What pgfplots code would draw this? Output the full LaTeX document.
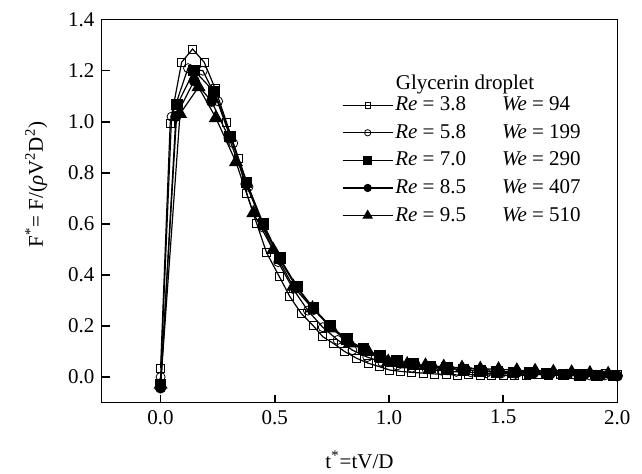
\documentclass[border=0pt]{standalone}
\usepackage{fontspec}
\setmainfont{Liberation Serif}
\usepackage{pgfplots}
\pgfplotsset{compat=1.18}
\begin{document}
\fontsize{10.5}{12.6}\selectfont
\begin{tikzpicture}
\begin{axis}[
  width=257.8pt, height=191.5pt, scale only axis,
  xmin=-0.258, xmax=2.0, ymin=-0.1008, ymax=1.4,
  xtick={0,0.5,1,1.5,2}, ytick={0,0.2,0.4,0.6,0.8,1.0,1.2,1.4},
  xtick pos=bottom, ytick pos=left, tick align=inside,
  major tick length=4pt, minor tick num=0,
  axis line style={line width=0.75pt},
  tick style={line width=0.75pt,black},
  /pgf/number format/assume math mode=true,
  /pgf/number format/.cd, fixed, fixed zerofill, precision=1, /pgfplots/.cd,
  xlabel={t\textsuperscript{*}=tV/D},
  ylabel={F\textsuperscript{*}= F/(\textit{ρ}V\textsuperscript{2}D\textsuperscript{2})},
  xlabel style={at={(axis description cs:0.5,-0.15)},anchor=center},
  ylabel style={at={(axis description cs:-0.127,0.57)},anchor=center},
  legend image code/.code={\draw[mark repeat=2,mark phase=2,#1,every mark/.append style={scale=0.7}] plot coordinates {(0pt,0pt) (12.5pt,0pt) (25pt,0pt)};},
  legend style={draw=none, fill=none, at={(axis description cs:0.4655,0.8105)}, anchor=north west,
    inner sep=0pt, row sep=1.3pt, nodes={inner sep=1pt, text height=8pt, text depth=2.5pt}},
  legend cell align=left,
  every axis plot/.append style={black, line width=0.6pt},
]
% Re = 3.8, We = 94
\addplot[mark=square, mark size=2pt, mark options={line width=0.4pt, solid}] coordinates {
(0,0.035)(0.042,0.995)(0.092,1.233)(0.14,1.285)(0.191,1.233)(0.238,1.132)(0.289,0.997)
(0.34,0.858)(0.377,0.72)(0.42,0.603)(0.464,0.487)(0.52,0.393)(0.566,0.315)(0.615,0.25)
(0.668,0.201)(0.71,0.158)(0.756,0.132)(0.807,0.099)(0.859,0.073)(0.909,0.054)(0.96,0.04)
(1.004,0.027)(1.05,0.022)(1.1,0.018)(1.15,0.015)(1.2,0.012)(1.25,0.01)(1.3,0.008)
(1.35,0.01)(1.4,0.006)(1.45,0.008)(1.5,0.005)(1.55,0.008)(1.6,0.006)(1.65,0.01)
(1.7,0.008)(1.75,0.012)(1.8,0.01)(1.85,0.014)(1.9,0.01)(1.95,0.015)(2.0,0.012)};
\addlegendentry{\makebox[53.35pt][l]{\textit{Re} = 3.8}\textit{We} = 94}
% Re = 5.8, We = 199
\addplot[mark=o, mark size=2.25pt, mark options={line width=0.4pt, solid}] coordinates {
(0,0.0)(0.048,1.02)(0.12,1.21)(0.185,1.2)(0.252,1.08)(0.318,0.916)(0.385,0.745)
(0.45,0.585)(0.515,0.45)(0.58,0.345)(0.645,0.26)(0.71,0.195)(0.775,0.145)(0.84,0.105)
(0.905,0.078)(0.97,0.058)(1.035,0.045)(1.1,0.036)(1.165,0.03)(1.23,0.025)(1.295,0.02)
(1.36,0.018)(1.425,0.015)(1.49,0.013)(1.555,0.012)(1.62,0.01)(1.685,0.01)(1.75,0.008)
(1.815,0.008)(1.88,0.006)(1.945,0.006)(2.0,0.005)};
\addlegendentry{\makebox[53.35pt][l]{\textit{Re} = 5.8}\textit{We} = 199}
% Re = 7.0, We = 290
\addplot[mark=square*, mark size=2.6pt] coordinates {
(0,-0.03)(0.073,1.067)(0.147,1.201)(0.233,1.119)(0.304,0.942)(0.377,0.762)(0.45,0.6)
(0.523,0.465)(0.596,0.355)(0.669,0.27)(0.742,0.2)(0.815,0.148)(0.888,0.11)(0.961,0.082)
(1.034,0.062)(1.107,0.05)(1.18,0.04)(1.253,0.034)(1.326,0.028)(1.399,0.024)(1.472,0.02)
(1.545,0.018)(1.618,0.015)(1.691,0.013)(1.764,0.01)(1.837,0.008)(1.91,0.006)(1.983,0.005)};
\addlegendentry{\makebox[53.35pt][l]{\textit{Re} = 7.0}\textit{We} = 290}
% Re = 8.5, We = 407
\addplot[mark=*, mark size=2.5pt] coordinates {
(0,-0.043)(0.067,1.021)(0.147,1.161)(0.223,1.08)(0.30,0.936)(0.374,0.756)(0.448,0.595)
(0.522,0.46)(0.596,0.35)(0.67,0.265)(0.744,0.198)(0.818,0.146)(0.892,0.108)(0.966,0.08)
(1.04,0.06)(1.114,0.048)(1.188,0.04)(1.262,0.033)(1.336,0.028)(1.41,0.024)(1.484,0.02)
(1.558,0.017)(1.632,0.015)(1.706,0.012)(1.78,0.01)(1.854,0.008)(1.928,0.006)(2.0,0.004)};
\addlegendentry{\makebox[53.35pt][l]{\textit{Re} = 8.5}\textit{We} = 407}
% Re = 9.5, We = 510
\addplot[mark=triangle*, mark size=3.5pt] coordinates {
(0,-0.03)(0.085,1.031)(0.166,1.136)(0.242,1.015)(0.33,0.842)(0.406,0.642)(0.493,0.498)
(0.581,0.354)(0.665,0.269)(0.748,0.191)(0.829,0.132)(0.909,0.099)(0.997,0.06)(1.08,0.05)
(1.16,0.045)(1.24,0.04)(1.32,0.036)(1.4,0.032)(1.48,0.03)(1.56,0.026)(1.64,0.024)
(1.72,0.02)(1.8,0.018)(1.88,0.015)(1.96,0.012)};
\addlegendentry{\makebox[53.35pt][l]{\textit{Re} = 9.5}\textit{We} = 510}
\node at (axis description cs:0.7046,0.83) {Glycerin droplet};
\end{axis}
\pgfresetboundingbox
\path[use as bounding box] (current axis.south west) ++(-50.85pt,-35.65pt) rectangle ++(321pt,237pt);
\end{tikzpicture}
\end{document}
